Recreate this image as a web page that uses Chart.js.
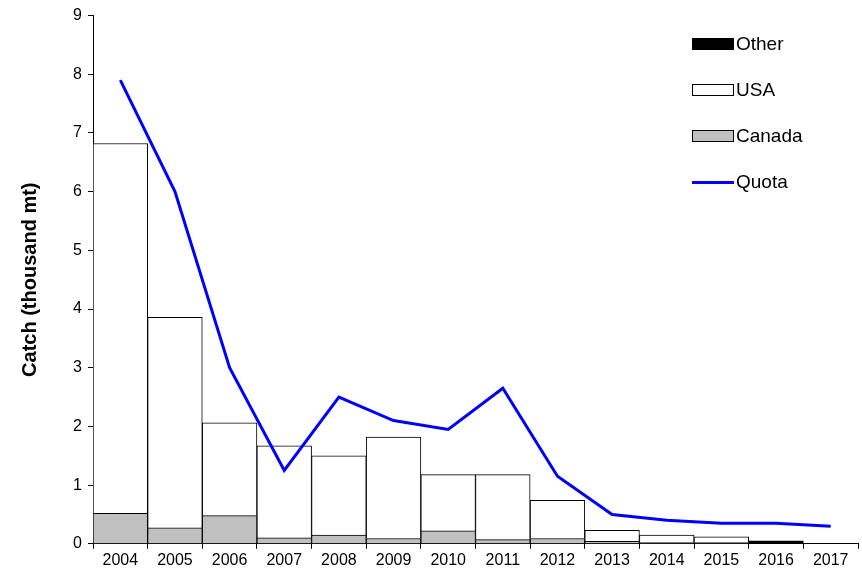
<!DOCTYPE html>
<html><head><meta charset="utf-8">
<script src="https://cdn.jsdelivr.net/npm/chart.js@4"></script>
<style>
body{margin:0;background:#fff;font-family:"Liberation Sans",Arial,sans-serif}
#wrap{position:relative;width:862px;height:577px}
#leg{position:absolute;left:692px;top:21px;font-size:19px;color:#000}
.it{display:flex;align-items:center;height:46px}
.sw{width:42px;height:12px;border:1px solid #000;margin-right:2px;box-sizing:border-box}
.ln{width:42px;height:3px;background:#0000ff;margin-right:2px}
</style></head><body>
<div id="wrap"><canvas id="c" width="862" height="577"></canvas>
<div id="leg">
<div class="it"><div class="sw" style="background:#000"></div>Other</div>
<div class="it"><div class="sw" style="background:#fff"></div>USA</div>
<div class="it"><div class="sw" style="background:#c0c0c0"></div>Canada</div>
<div class="it"><div class="ln"></div>Quota</div>
</div></div>
<script>
const years=['2004','2005','2006','2007','2008','2009','2010','2011','2012','2013','2014','2015','2016','2017'];
const canada=[0.52,0.27,0.48,0.1,0.15,0.09,0.22,0.07,0.09,0.04,0.02,0.02,0,0];
const usa=[6.3,3.59,1.58,1.57,1.35,1.73,0.96,1.11,0.65,0.19,0.13,0.1,0,0];
const other=[0,0,0,0,0,0,0,0,0,0,0,0,0.05,0];
const quota=[7.9,6.0,3.0,1.25,2.5,2.1,1.95,2.65,1.15,0.5,0.4,0.35,0.35,0.3];
const bar={borderColor:'#000',borderWidth:1,barPercentage:1,categoryPercentage:1,stack:'s',order:2};
new Chart(document.getElementById('c'),{
 data:{labels:years,datasets:[
  {type:'bar',label:'Canada',data:canada,backgroundColor:'#c0c0c0',...bar},
  {type:'bar',label:'USA',data:usa,backgroundColor:'#fff',...bar},
  {type:'bar',label:'Other',data:other,backgroundColor:'#000',...bar},
  {type:'line',label:'Quota',data:quota,borderColor:'#0000ff',borderWidth:3,pointRadius:0,tension:0,order:1}
 ]},
 options:{responsive:false,animation:false,
  layout:{padding:{top:2,right:4,left:14,bottom:5}},
  plugins:{legend:{display:false},tooltip:{enabled:false}},
  scales:{
   x:{stacked:true,grid:{display:true,drawOnChartArea:false,tickLength:5,color:'#000'},border:{color:'#000'},ticks:{color:'#000',padding:2,font:{size:16,family:'Liberation Sans'},maxRotation:0}},
   y:{stacked:true,min:0,max:9,afterFit:s=>{s.width=79},ticks:{stepSize:1,color:'#000',padding:6,font:{size:16,family:'Liberation Sans'}},grid:{display:true,drawOnChartArea:false,tickLength:5,color:'#000'},border:{color:'#000'},
    title:{display:true,text:'Catch (thousand mt)',color:'#000',font:{size:20,weight:'bold',family:'Liberation Sans'}}}
  }}
});
</script></body></html>
